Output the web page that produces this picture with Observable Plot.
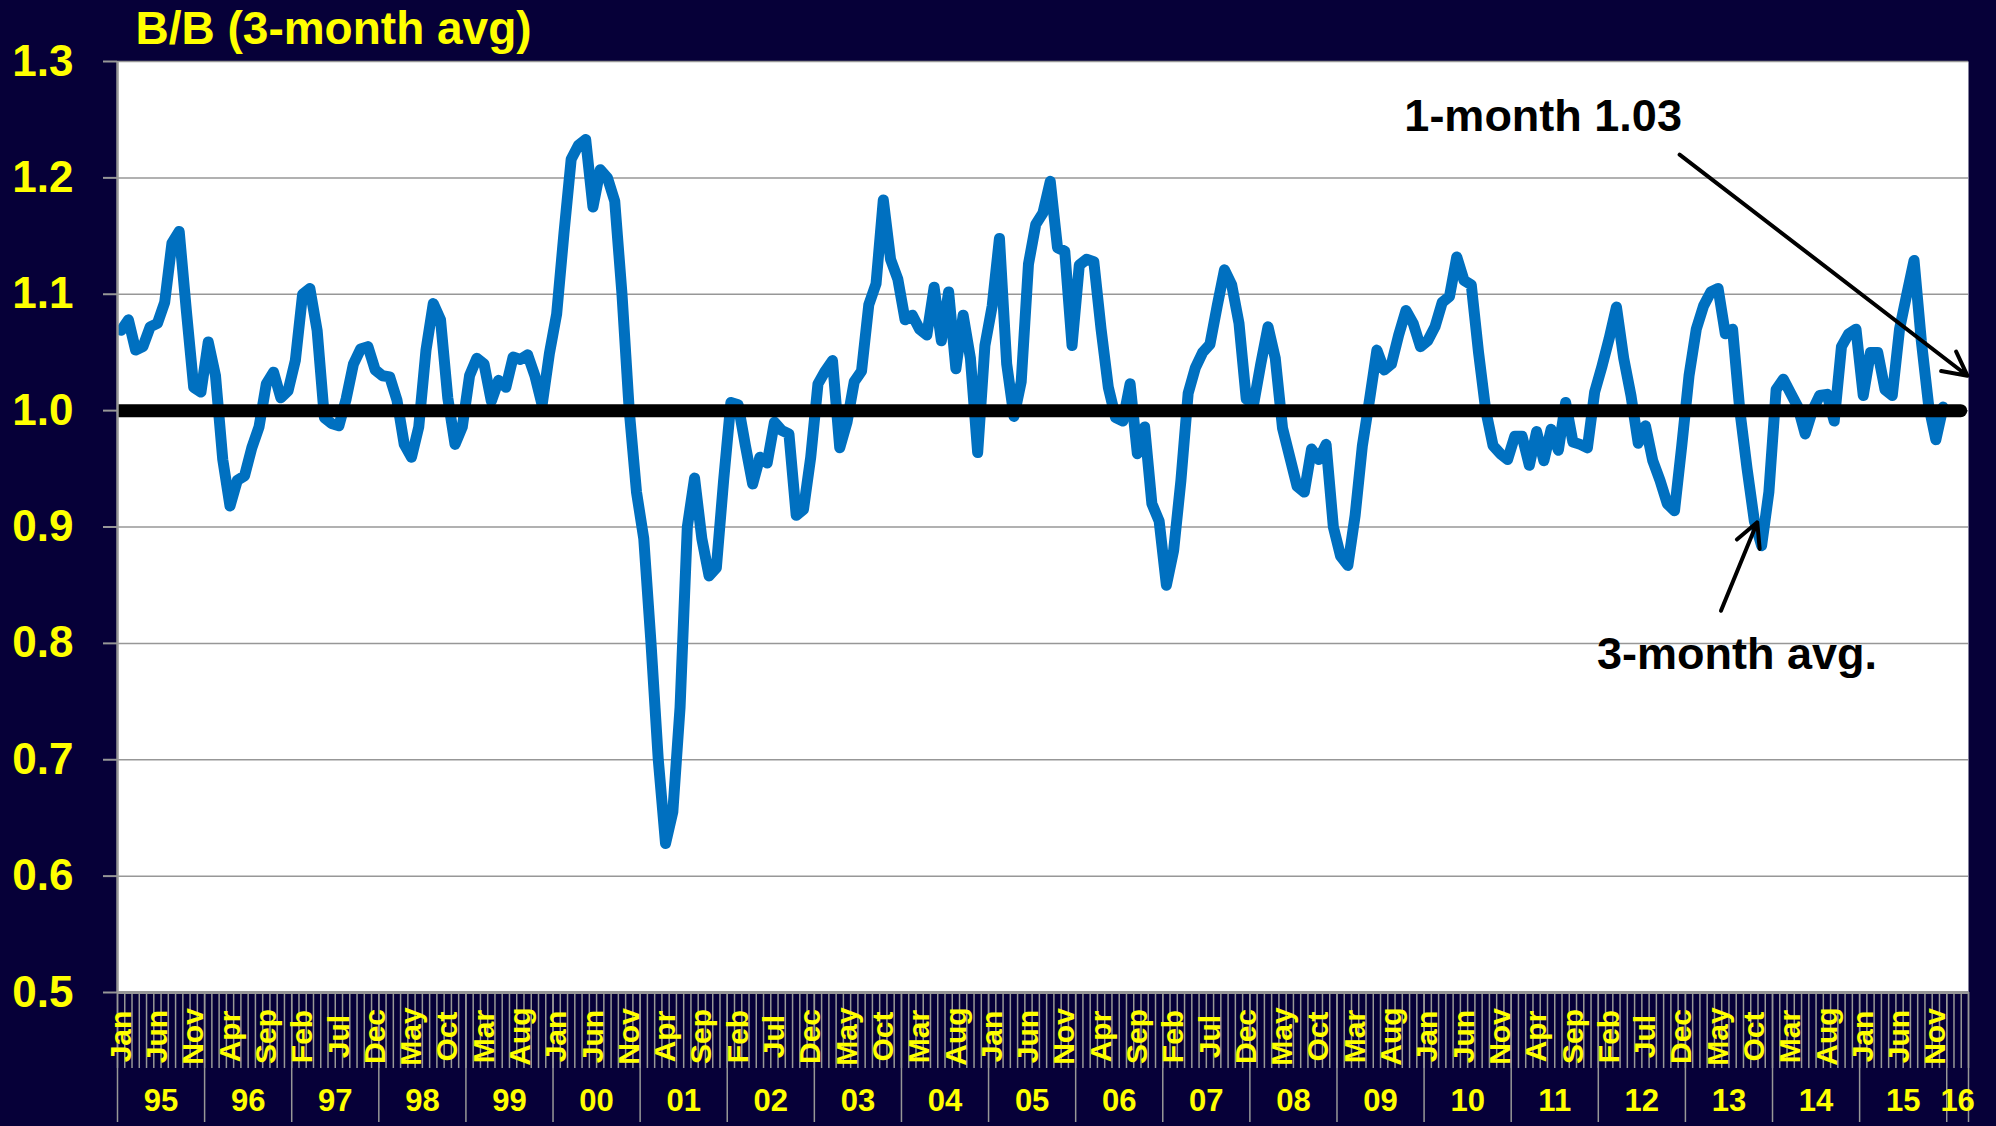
<!DOCTYPE html>
<html>
<head>
<meta charset="utf-8">
<script src="https://cdn.jsdelivr.net/npm/d3@7"></script>
<script src="https://cdn.jsdelivr.net/npm/@observablehq/plot@0.6"></script>
<style>
  html, body { margin: 0; padding: 0; background: #060038; }
  #chart { width: 1996px; height: 1126px; overflow: hidden; }
</style>
</head>
<body>
<div id="chart"></div>
<script>
// ---------- categories / tick labels ----------
const monthNames = ["Jan","Feb","Mar","Apr","May","Jun","Jul","Aug","Sep","Oct","Nov","Dec"];
const yearLabels = ["95","96","97","98","99","00","01","02","03","04","05","06","07","08","09","10","11","12","13","14","15","16"];
const categoryCount = 255;          // Jan 1995 .. Mar 2016 on the category axis
const monthLabelEvery = 5;          // every 5th month is labelled
const yTicks = [0.5, 0.6, 0.7, 0.8, 0.9, 1.0, 1.1, 1.2, 1.3];
const breakEven = 1.0;

// ---------- series: book-to-bill, 3-month average ----------
const y1995 = [1.069, 1.078, 1.052, 1.055, 1.072, 1.075, 1.093, 1.144, 1.154, 1.085, 1.020, 1.016];
const y1996 = [1.059, 1.030, 0.958, 0.918, 0.940, 0.944, 0.968, 0.986, 1.023, 1.033, 1.011, 1.017];
const y1997 = [1.043, 1.100, 1.105, 1.069, 0.994, 0.989, 0.987, 1.010, 1.040, 1.053, 1.055, 1.035];
const y1998 = [1.030, 1.029, 1.009, 0.971, 0.960, 0.986, 1.052, 1.092, 1.078, 1.011, 0.971, 0.986];
const y1999 = [1.030, 1.045, 1.040, 1.008, 1.026, 1.020, 1.046, 1.044, 1.048, 1.030, 1.005, 1.049];
const y2000 = [1.083, 1.152, 1.216, 1.228, 1.233, 1.175, 1.207, 1.200, 1.180, 1.100, 1.000, 0.930];
const y2001 = [0.890, 0.800, 0.700, 0.628, 0.655, 0.745, 0.900, 0.942, 0.890, 0.858, 0.865, 0.940];
const y2002 = [1.007, 1.005, 0.970, 0.937, 0.960, 0.955, 0.990, 0.983, 0.980, 0.910, 0.915, 0.960];
const y2003 = [1.023, 1.034, 1.043, 0.968, 0.990, 1.025, 1.034, 1.091, 1.109, 1.181, 1.130, 1.113];
const y2004 = [1.078, 1.082, 1.070, 1.065, 1.106, 1.060, 1.102, 1.036, 1.082, 1.045, 0.964, 1.056];
const y2005 = [1.090, 1.148, 1.040, 0.995, 1.025, 1.126, 1.160, 1.170, 1.197, 1.140, 1.137, 1.056];
const y2006 = [1.125, 1.130, 1.128, 1.070, 1.020, 0.994, 0.991, 1.023, 0.963, 0.986, 0.920, 0.905];
const y2007 = [0.850, 0.880, 0.940, 1.015, 1.037, 1.050, 1.057, 1.090, 1.121, 1.108, 1.075, 1.010];
const y2008 = [1.005, 1.040, 1.072, 1.045, 0.985, 0.960, 0.935, 0.930, 0.967, 0.958, 0.971, 0.900];
const y2009 = [0.875, 0.867, 0.910, 0.970, 1.010, 1.052, 1.035, 1.040, 1.065, 1.086, 1.075, 1.055];
const y2010 = [1.060, 1.072, 1.093, 1.098, 1.132, 1.112, 1.108, 1.050, 1.000, 0.970, 0.963, 0.958];
const y2011 = [0.978, 0.978, 0.953, 0.982, 0.957, 0.984, 0.966, 1.007, 0.973, 0.971, 0.968, 1.016];
const y2012 = [1.038, 1.062, 1.089, 1.045, 1.013, 0.972, 0.987, 0.957, 0.940, 0.920, 0.914, 0.970];
const y2013 = [1.030, 1.070, 1.090, 1.102, 1.105, 1.066, 1.070, 1.000, 0.950, 0.905, 0.884, 0.930];
const y2014 = [1.018, 1.027, 1.015, 1.003, 0.980, 1.000, 1.013, 1.014, 0.991, 1.055, 1.066, 1.070];
const y2015 = [1.013, 1.050, 1.050, 1.018, 1.013, 1.070, 1.100, 1.129, 1.060, 1.005, 0.975, 1.003];

// ---------- annotations (category position, value) ----------
const annotations = [
  {label: "1-month 1.03", tx: 196.4, ty: 1.240, x1: 215.2, y1: 1.220, x2: 254.85, y2: 1.030},
  {label: "3-month avg.", tx: 223.1, ty: 0.778, x1: 220.9, y1: 0.828, x2: 225.9, y2: 0.904}
];
const titleText = "B/B (3-month avg)";

// ---------- derived tables ----------
const series = [].concat(y1995, y1996, y1997, y1998, y1999, y2000, y2001, y2002, y2003, y2004,
  y2005, y2006, y2007, y2008, y2009, y2010, y2011, y2012, y2013, y2014, y2015);
const points = series.map((value, i) => ({pos: i + 0.5, value}));
const monthBoundaries = d3.range(0, categoryCount + 1);
const yearBoundaries = d3.range(0, categoryCount, 12).concat([categoryCount]);
const monthTicks = d3.range(0, categoryCount, monthLabelEvery).map(i => ({pos: i + 0.5, label: monthNames[i % 12]}));
const yearBands = yearLabels.map((label, k) => {
  const start = k * 12, end = Math.min(start + 12, categoryCount);
  return {pos: (start + end) / 2, label};
});

const YELLOW = "#ffff00", GRID = "#979797", FONT = "'Liberation Sans', Arial, sans-serif";

const chart = Plot.plot({
  width: 1996,
  height: 1126,
  marginLeft: 117,
  marginRight: 28,
  marginTop: 61,
  marginBottom: 134,
  style: {background: "#060038", fontFamily: FONT, overflow: "visible"},
  x: {domain: [0, categoryCount], axis: null},
  y: {domain: [0.5, 1.3], axis: null},
  marks: [
    Plot.frame({fill: "white", stroke: "none"}),
    Plot.ruleY(yTicks, {stroke: GRID, strokeWidth: 1.5}),
    Plot.axisY(yTicks, {tickSize: 14, tickPadding: 30, tickFormat: d3.format(".1f"),
      stroke: GRID, strokeWidth: 2, fill: YELLOW, fontSize: 44, fontWeight: "bold", label: null}),
    Plot.axisX(monthBoundaries, {tickSize: 76, tickFormat: () => "", stroke: GRID, strokeWidth: 1.5, fill: "none", label: null}),
    Plot.axisX(yearBoundaries, {tickSize: 130, tickFormat: () => "", stroke: GRID, strokeWidth: 1.5, fill: "none", label: null}),
    Plot.text(monthTicks, {x: "pos", text: "label", frameAnchor: "bottom", dy: 44, rotate: -90,
      textAnchor: "middle", lineAnchor: "middle", fill: YELLOW, fontSize: 30, fontWeight: "bold"}),
    Plot.text(yearBands, {x: "pos", text: "label", frameAnchor: "bottom", dy: 109,
      textAnchor: "middle", lineAnchor: "middle", fill: YELLOW, fontSize: 31, fontWeight: "bold"}),
    Plot.line(points, {x: "pos", y: "value", stroke: "#0070c0", strokeWidth: 11,
      strokeLinejoin: "round", strokeLinecap: "round", clip: true}),
    Plot.ruleY([breakEven], {x1: 0, x2: categoryCount - 1, stroke: "black", strokeWidth: 13,
      strokeLinecap: "round", clip: true}),
    Plot.ruleX([0], {stroke: GRID, strokeWidth: 2.5}),
    Plot.ruleY([0.5], {stroke: GRID, strokeWidth: 3}),
    Plot.arrow(annotations, {x1: "x1", y1: "y1", x2: "x2", y2: "y2", stroke: "black",
      strokeWidth: 4, headLength: 10, headAngle: 55}),
    Plot.text(annotations, {x: "tx", y: "ty", text: "label", lineAnchor: "bottom", textAnchor: "middle",
      fill: "black", fontSize: 45, fontWeight: "bold"}),
    Plot.text([titleText], {frameAnchor: "top-left", dx: 18, dy: -18, lineAnchor: "bottom",
      textAnchor: "start", fill: YELLOW, fontSize: 46, fontWeight: "bold"})
  ]
});
document.getElementById("chart").appendChild(chart);
</script>
</body>
</html>
